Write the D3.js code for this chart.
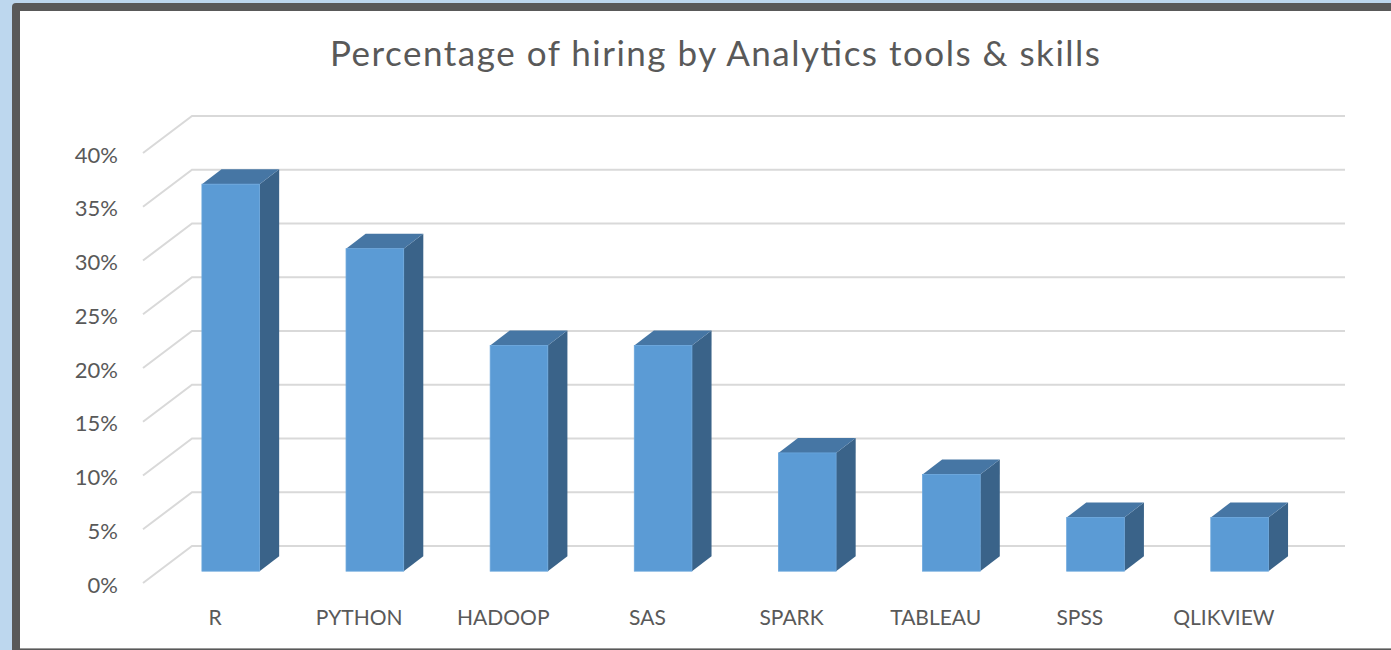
<!DOCTYPE html>
<html>
<head>
<meta charset="utf-8">
<script src="https://cdn.jsdelivr.net/npm/d3@7"></script>
<style>
  body { margin: 0; background: #bdd7ee; }
  svg { display: block; }
  text { font-family: Lato, "Open Sans", sans-serif; fill: #595959; }
</style>
</head>
<body>
<svg id="svg1" width="1391" height="650"></svg>
<script>

// chart data
let categories = ["R", "PYTHON", "HADOOP", "SAS", "SPARK", "TABLEAU", "SPSS", "QLIKVIEW"];
let hiring = [0.36, 0.30, 0.21, 0.21, 0.11, 0.09, 0.05, 0.05];
let yTicks = [0, 0.05, 0.10, 0.15, 0.20, 0.25, 0.30, 0.35, 0.40];

let svg = d3.select("#svg1");

// frame of the chart object (dark border, white inside)
svg.append("rect")
  .attr("x", 12).attr("y", 3)
  .attr("width", 1400).attr("height", 660)
  .attr("rx", 4)
  .attr("fill", "#595959");
svg.append("rect")
  .attr("x", 20).attr("y", 11)
  .attr("width", 1391).attr("height", 637)
  .attr("fill", "#ffffff");
svg.append("line")
  .attr("x1", 20).attr("x2", 1391)
  .attr("y1", 648.5).attr("y2", 648.5)
  .attr("stroke", "#9a9a9a").attr("stroke-width", 1);

// 3d layout: front-left corner of the floor and the depth offset
let originX = 143, originY = 583;
let depthX = 49, depthY = -37;
let wallWidth = 1153, wallHeight = 430;

let x = d3.scaleBand().domain(categories).range([0, wallWidth]).paddingInner(0.6).paddingOuter(0.3);
let slot = d3.scaleBand().domain(categories).range([0, wallWidth]);
let y = d3.scaleLinear().domain([0, 0.4]).range([0, wallHeight]);

// project a point (position along wall, value, depth 0..1) to the screen
function P(xw, v, z) {
  return [originX + xw + z * depthX, originY - y(v) + z * depthY];
}

let g = svg.append("g");

// gridlines on the side wall and back wall
yTicks.forEach(t => {
  let a = P(0, t, 0), b = P(0, t, 1), c = P(wallWidth, t, 1);
  g.append("polyline")
    .attr("points", [a, b, c].map(p => p.join(",")).join(" "))
    .attr("fill", "none")
    .attr("stroke", "#d9d9d9")
    .attr("stroke-width", 2);
});

// y axis labels
g.selectAll(".ylab")
  .data(yTicks)
  .enter().append("text")
    .attr("class", "ylab")
    .attr("x", 118)
    .attr("y", d => P(0, d, 0)[1] + 2)
    .attr("dy", "0.35em")
    .attr("text-anchor", "end")
    .style("font-size", "22px")
    .text(d3.format(".0%"));

// x axis labels, centred on the front edge of each slot
g.selectAll(".xlab")
  .data(categories)
  .enter().append("text")
    .attr("class", "xlab")
    .attr("x", d => originX + slot(d) + slot.bandwidth() / 2)
    .attr("y", 625)
    .attr("text-anchor", "middle")
    .style("font-size", "21px")
    .text(d => d);

// bars
let z0 = 0.32, z1 = 0.72;
let pts = arr => arr.map(p => p.join(",")).join(" ");

categories.forEach((c, i) => {
  let v = hiring[i];
  let xl = x(c), xr = x(c) + x.bandwidth();
  let bar = g.append("g").attr("class", "bar");

  // right side
  bar.append("polygon")
    .attr("points", pts([P(xr, 0, z0), P(xr, 0, z1), P(xr, v, z1), P(xr, v, z0)]))
    .attr("fill", "#3a6389");
  // top
  bar.append("polygon")
    .attr("points", pts([P(xl, v, z0), P(xl, v, z1), P(xr, v, z1), P(xr, v, z0)]))
    .attr("fill", "#4676a4");
  // front
  let f0 = P(xl, v, z0), f1 = P(xr, 0, z0);
  bar.append("rect")
    .attr("x", f0[0]).attr("y", f0[1])
    .attr("width", f1[0] - f0[0])
    .attr("height", f1[1] - f0[1])
    .attr("fill", "#5b9bd5")
    .attr("stroke", "#6aa6dc")
    .attr("stroke-width", 0.8);
});

// title (stretched a little to the width of the original)
svg.append("text")
  .attr("x", 715)
  .attr("y", 66)
  .attr("text-anchor", "middle")
  .attr("textLength", 770)
  .attr("lengthAdjust", "spacing")
  .style("font-size", "35px")
  .text("Percentage of hiring by Analytics tools & skills");

</script>
</body>
</html>
